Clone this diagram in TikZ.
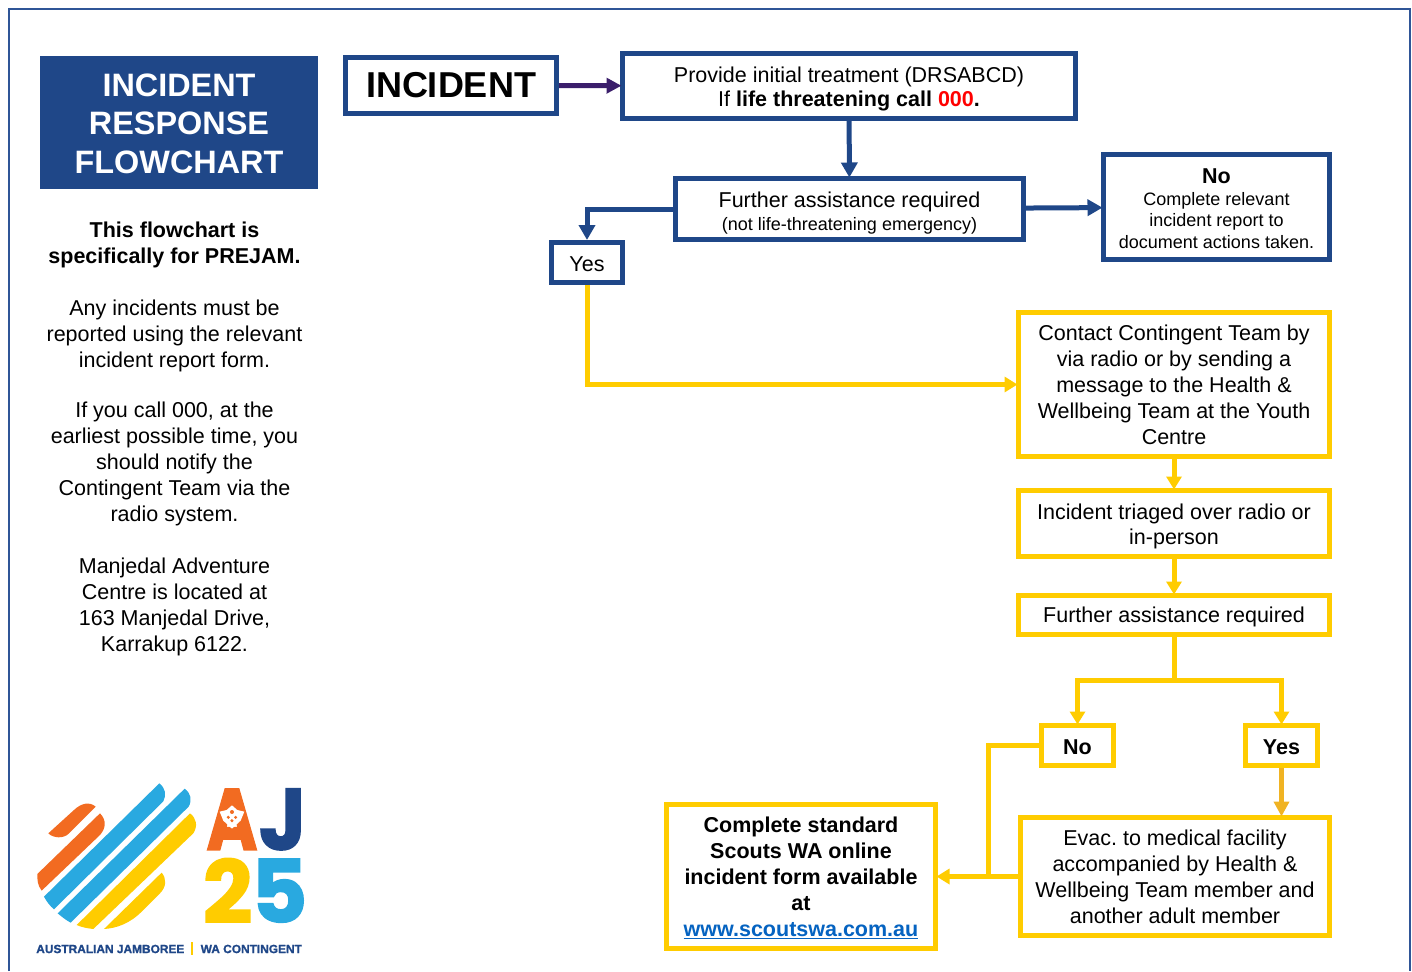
\documentclass[tikz,border=0pt]{standalone}
\usepackage{fontspec}
\setmainfont{Liberation Sans}
\newfontfamily\logofont[BoldFeatures={FakeBold=1.6}]{Poppins}
\newfontfamily\logosmall[BoldFeatures={FakeBold=1.2}]{Liberation Sans}
\usetikzlibrary{arrows.meta, positioning}
\definecolor{ajblue}{HTML}{1F4788}
\definecolor{ajframe}{HTML}{2F5597}
\definecolor{ajyellow}{HTML}{FFCC00}
\definecolor{ajamber}{HTML}{F0B323}
\definecolor{ajpurple}{HTML}{3B1E6B}
\definecolor{ajorange}{HTML}{F26B21}
\definecolor{ajsky}{HTML}{29A9E0}
\definecolor{ajlink}{HTML}{0563C1}
\newcommand{\bodysize}{\fontsize{21.5}{26}\selectfont}
\newcommand{\smallsize}{\fontsize{18}{21.5}\selectfont}
\newcommand{\topgap}[1]{\rule{0pt}{#1pt}}

\begin{document}
\begin{tikzpicture}[
    x=1pt, y=1pt,
    bluebox/.style={rectangle, draw=ajblue, line width=5pt, fill=white, align=center, inner sep=0pt, font=\bodysize},
    yellowbox/.style={rectangle, draw=ajyellow, line width=5pt, fill=white, align=center, inner sep=0pt, font=\bodysize},
    sidetext/.style={align=center, inner sep=0pt, font=\bodysize},
    bluearrow/.style={-{Triangle[length=15pt, width=16pt]}, line width=5pt, draw=ajblue, shorten >=-1.5pt},
    yellowarrow/.style={-{Triangle[length=13pt, width=15pt]}, line width=5pt, draw=ajyellow, shorten >=-1.5pt},
    yellowline/.style={line width=5pt, draw=ajyellow},
    logoletter/.style={inner sep=0pt, font=\logofont\fontsize{87}{87}\selectfont\bfseries},
    logotext/.style={inner sep=0pt, text=ajblue, font=\logosmall\fontsize{11.9}{14}\selectfont\bfseries},
]
\useasboundingbox (0,0) rectangle (1412,-971);

% outer frame
\draw[ajframe, line width=2pt] (9,-971) -- (9,-9) -- (1410,-9) -- (1410,-971);

% left column
\node[rectangle, fill=ajblue, minimum width=278pt, minimum height=133pt, inner sep=0pt, text=white, align=center,
    font=\fontsize{32.4}{38.5}\selectfont\bfseries] (title) at (179,-122.5) {\topgap{25}INCIDENT\\RESPONSE\\FLOWCHART};
\node[sidetext, font=\bodysize\bfseries] (note1) at (174.5,-245) {This flowchart is\\specifically for PREJAM.};
\node[sidetext] (note2) at (174.5,-336) {Any incidents must be\\reported using the relevant\\incident report form.};
\node[sidetext] (note3) at (174.5,-464) {If you call 000, at the\\earliest possible time, you\\should notify the\\Contingent Team via the\\radio system.};
\node[sidetext] (note4) at (174.5,-607) {Manjedal Adventure\\Centre is located at\\163 Manjedal Drive,\\Karrakup 6122.};

% blue part
\node[bluebox, minimum width=211pt, minimum height=56pt, font=\fontsize{36}{40}\selectfont\bfseries] (incident) at (451,-85.5) {INCIDENT};
\node[bluebox, minimum width=453pt, minimum height=65pt] (treat) at (849,-86) {\topgap{22}Provide initial treatment (DRSABCD)\\[-2pt]If \textbf{life threatening call} \textcolor{red}{\textbf{000}}\textbf{.}};
\node[bluebox, minimum width=348pt, minimum height=61pt] (assist) at (849.5,-209) {\topgap{23}Further assistance required\\[-3pt]{\smallsize (not life-threatening emergency)}};
\node[bluebox, minimum width=226pt, minimum height=105pt, font=\smallsize] (nofirst) at (1216.5,-207) {\topgap{18}{\bodysize\bfseries No}\\Complete relevant\\incident report to\\document actions taken.};
\node[bluebox, minimum width=71pt, minimum height=40pt] (yesfirst) at (587,-262.5) {\topgap{18}Yes};

% yellow part
\node[yellowbox, minimum width=311pt, minimum height=144pt] (contact) at (1174,-384.5) {Contact Contingent Team by\\via radio or by sending a\\message to the Health \&\\Wellbeing Team at the Youth\\Centre};
\node[yellowbox, minimum width=311pt, minimum height=66pt] (triage) at (1174,-523.5) {\topgap{21}Incident triaged over radio or\\[-1pt]in-person};
\node[yellowbox, minimum width=311pt, minimum height=39pt] (assisttwo) at (1174,-615) {\topgap{20}Further assistance required};
\node[yellowbox, minimum width=72pt, minimum height=40pt, font=\bodysize\bfseries] (notwo) at (1077.5,-745.5) {\topgap{18}No};
\node[yellowbox, minimum width=72pt, minimum height=40pt, font=\bodysize\bfseries] (yestwo) at (1281.5,-745.5) {\topgap{18}Yes};
\node[yellowbox, minimum width=309pt, minimum height=118pt] (evac) at (1175,-876.5) {Evac.\ to medical facility\\accompanied by Health \&\\Wellbeing Team member and\\another adult member};
\node[yellowbox, minimum width=269pt, minimum height=144pt, font=\bodysize\bfseries] (form) at (801,-876.5) {\topgap{18}Complete standard\\Scouts WA online\\incident form available\\at\\\textcolor{ajlink}{\underline{www.scoutswa.com.au}}};

\coordinate (split) at (1174,-680);
\coordinate (merge) at (988,-876.5);

% connectors
\draw[bluearrow, draw=ajpurple, -{Triangle[length=15pt, width=15pt, color=ajpurple]}] (incident) -- (treat);
\draw[bluearrow] (treat) -- (assist);
\draw[bluearrow] (assist) -- (nofirst);
\draw[bluearrow, shorten >=0pt] (assist.west) -| (yesfirst.north);
\draw[yellowarrow] (yesfirst.south) |- (contact.west);
\draw[yellowarrow] (contact) -- (triage);
\draw[yellowarrow] (triage) -- (assisttwo);
\draw[yellowline] (assisttwo.south) -- (split);
\draw[yellowarrow] (split) -| (notwo.north);
\draw[yellowarrow] (split) -| (yestwo.north);
\draw[yellowarrow, draw=ajamber, -{Triangle[length=15pt, width=15pt, color=ajamber]}] (yestwo.south) -- (yestwo.south |- evac.north);
\draw[yellowarrow] (evac.west) -- (form.east);
\draw[yellowline] (notwo.west) -| (merge);

% logo
\begin{scope}[x=0.3333pt, y=-0.3333pt, yshift=-760pt]
\fill[ajorange] (145,220) -- (222,150) .. controls (245,128) and (270,125) .. (287,140) -- (205,222) .. controls (190,236) and (160,235) .. cycle;
\fill[ajorange] (300,160) .. controls (320,180) and (318,205) .. (300,225) -- (125,392) .. controls (112,375) and (112,360) .. (112,342) -- cycle;
\fill[ajsky] (478,70) .. controls (497,85) and (500,105) .. (490,124) -- (162,448) .. controls (150,438) and (140,425) .. (132,410) -- cycle;
\fill[ajsky] (554,86) .. controls (573,100) and (577,120) .. (566,140) -- (212,488) .. controls (197,480) and (185,470) .. (173,460) -- cycle;
\fill[ajyellow] (570,160) .. controls (590,175) and (594,198) .. (580,220) -- (280,507) .. controls (262,505) and (245,502) .. (230,495) -- cycle;
\fill[ajyellow] (485,338) .. controls (500,355) and (500,380) .. (480,400) -- (425,455) .. controls (390,490) and (350,505) .. (312,507) -- cycle;
\node[logoletter, text=ajorange] (logoa) at (696,178) {\scalebox{0.8}[1]{A}};
\node[logoletter, text=ajblue] (logoj) at (848,178) {\scalebox{0.95}[1]{J}};
\node[logoletter, text=ajyellow] (logotwo) at (683,392) {2};
\node[logoletter, text=ajsky] (logofive) at (838,392) {5};
\fill[white] (696,136) -- (712,150) -- (733,155) -- (722,182) -- (696,206) -- (670,182) -- (659,155) -- (680,150) -- cycle;
\fill[ajorange] (696,156) circle (6) (685,172) circle (5) (707,172) circle (5) (696,182) circle (5);
\node[logotext] (logoaus) at (331,567) {AUSTRALIAN JAMBOREE};
\node[logotext] (logowa) at (754,567) {WA CONTINGENT};
\fill[ajyellow] (573,547) rectangle (579,585);
\end{scope}
\end{tikzpicture}
\end{document}
